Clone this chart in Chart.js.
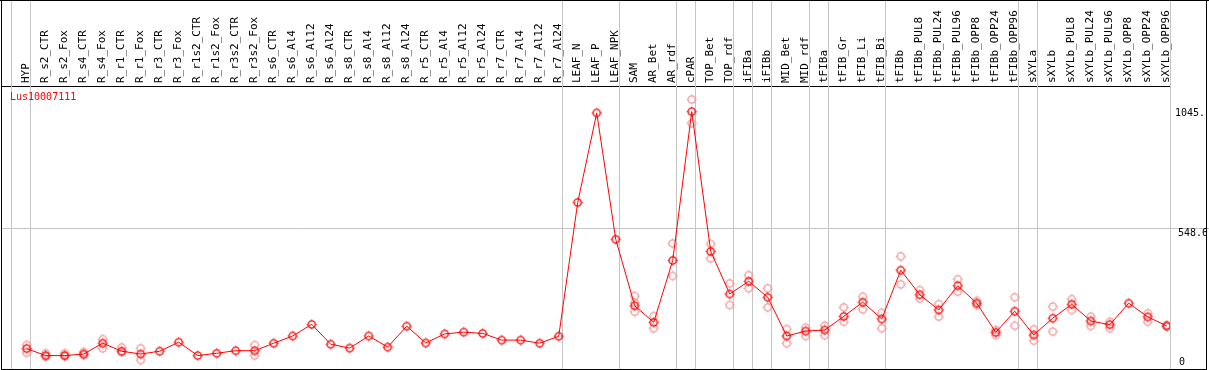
<!DOCTYPE html>
<html>
<head>
<meta charset="utf-8">
<script src="https://cdn.jsdelivr.net/npm/chart.js@4.4.0/dist/chart.umd.min.js"></script>
<style>
    html, body { margin: 0; padding: 0; background: #fff; }
    #wrap { width: 1209px; height: 370px; }
</style>
</head>
<body>
<div id="wrap"><canvas id="exprChart" width="1209" height="370"></canvas></div>
<script>
const geneName = 'Lus10007111';

const samples = [
    'HYP', 'R_s2_CTR', 'R_s2_Fox', 'R_s4_CTR', 'R_s4_Fox', 'R_r1_CTR', 'R_r1_Fox', 'R_r3_CTR', 'R_r3_Fox',
    'R_r1s2_CTR', 'R_r1s2_Fox', 'R_r3s2_CTR', 'R_r3s2_Fox', 'R_s6_CTR', 'R_s6_Al4', 'R_s6_Al12', 'R_s6_Al24',
    'R_s8_CTR', 'R_s8_Al4', 'R_s8_Al12', 'R_s8_Al24', 'R_r5_CTR', 'R_r5_Al4', 'R_r5_Al12', 'R_r5_Al24',
    'R_r7_CTR', 'R_r7_Al4', 'R_r7_Al12', 'R_r7_Al24', 'LEAF_N', 'LEAF_P', 'LEAF_NPK', 'SAM', 'AR_Bet', 'AR_rdf',
    'cPAR', 'TOP_Bet', 'TOP_rdf', 'iFIBa', 'iFIBb', 'MID_Bet', 'MID_rdf', 'tFIBa', 'tFIB_Gr', 'tFIB_Li', 'tFIB_Bi',
    'tFIBb', 'tFIBb_PUL8', 'tFIBb_PUL24', 'tFIBb_PUL96', 'tFIBb_OPP8', 'tFIBb_OPP24', 'tFIBb_OPP96',
    'sXYLa', 'sXYLb', 'sXYLb_PUL8', 'sXYLb_PUL24', 'sXYLb_PUL96', 'sXYLb_OPP8', 'sXYLb_OPP24', 'sXYLb_OPP96'
];

// moyenne par echantillon
const meanValues = [
    79, 52, 52, 58, 100, 69, 58, 69, 104, 52,
    61, 71, 71, 100, 128, 173, 96, 81, 128, 85,
    166, 101, 136, 143, 138, 112, 112, 100, 127, 646,
    993, 503, 245, 181, 421, 998, 456, 291, 340, 278,
    128, 147, 151, 204, 259, 194, 383, 288, 229, 323,
    255, 142, 224, 132, 197, 251, 186, 172, 255, 202, 167
];

// replicats (null = cache sous la moyenne)
const repHigh = [
    93, 61, 61, 66, 116, 84, 80, null, null, null,
    null, null, 93, null, null, null, null, null, null, null,
    null, null, null, null, null, null, null, null, null, null,
    null, null, 283, 205, 487, 1045, 485, 332, 364, 313,
    155, 160, 168, 239, 280, 218, 437, 306, 252, 348,
    264, 151, 278, 154, 242, 271, 203, 183, null, 216, 170
];
const repLow = [
    63, 48, 50, 54, 80, 66, 35, null, null, null,
    null, null, 52, null, null, null, null, null, null, null,
    null, null, null, null, null, null, null, null, null, null,
    null, null, 222, 158, 361, 953, 429, 248, 313, 239,
    100, 128, 131, 183, 231, 158, 328, 273, 203, 300,
    248, 132, 168, 110, 145, 229, 167, 158, null, 183, 165
];
const repThird = samples.map((s, i) => s === 'SAM' ? 257 : null);

// index du dernier echantillon de chaque groupe
const groupEnds = [-1, 0, 28, 31, 34, 35, 37, 38, 39, 41, 42, 45, 52, 53, 60];

const yMax = 1097.25;
const yMarks = [1045, 548.6, 0];
const yMarkLabels = ['1045.', '548.6', '0'];

function toPoints(values) {
    return values.map((v, i) => ({ x: i, y: v }));
}

function markImage(color) {
    const c = document.createElement('canvas');
    c.width = 13;
    c.height = 13;
    const g = c.getContext('2d');
    g.strokeStyle = color;
    g.lineWidth = 1.4;
    g.beginPath();
    g.arc(6.5, 6.5, 3.6, 0, Math.PI * 2);
    g.stroke();
    // petits traits autour du cercle
    g.lineWidth = 1;
    g.beginPath();
    g.moveTo(6.5, 1.5); g.lineTo(6.5, 2.6);
    g.moveTo(6.5, 10.4); g.lineTo(6.5, 11.5);
    g.moveTo(1.5, 6.5); g.lineTo(2.6, 6.5);
    g.moveTo(10.4, 6.5); g.lineTo(11.5, 6.5);
    g.stroke();
    return c;
}

const meanMark = markImage('#ff0000');
const repMark = markImage('#f09898');

const decorPlugin = {
    id: 'decor',
    beforeDatasetsDraw(chart) {
        const ctx = chart.ctx;
        const xs = chart.scales.x;
        const ys = chart.scales.y;
        ctx.save();
        ctx.strokeStyle = '#c4c4c4';
        ctx.lineWidth = 1;
        groupEnds.forEach(i => {
            const px = Math.round(xs.getPixelForValue(i + 0.19)) + 0.5;
            ctx.beginPath();
            ctx.moveTo(px, 0);
            ctx.lineTo(px, chart.chartArea.bottom);
            ctx.stroke();
        });
        const gy = Math.round(ys.getPixelForValue(548.6)) + 0.5;
        ctx.beginPath();
        ctx.moveTo(2, gy);
        ctx.lineTo(chart.width, gy);
        ctx.stroke();
        ctx.restore();
    },
    afterDraw(chart) {
        const ctx = chart.ctx;
        const ys = chart.scales.y;
        ctx.save();
        ctx.font = '10px "DejaVu Sans Mono"';
        ctx.fillStyle = '#ff0000';
        ctx.textBaseline = 'top';
        ctx.fillText(geneName, 10, 92);

        ctx.fillStyle = '#000';
        ctx.beginPath();
        ctx.rect(0, 0, 1206, 370);
        ctx.clip();
        yMarks.forEach((v, k) => {
            const py = ys.getPixelForValue(v);
            if (v === 0) {
                ctx.textBaseline = 'bottom';
                ctx.fillText(yMarkLabels[k], 1179, py - 2);
            } else if (k === 0) {
                ctx.textBaseline = 'top';
                ctx.fillText(yMarkLabels[k], 1175, py + 9);
            } else {
                ctx.textBaseline = 'top';
                ctx.fillText(yMarkLabels[k], 1178, py + 1);
            }
        });
        ctx.restore();

        ctx.save();
        ctx.strokeStyle = '#000';
        ctx.lineWidth = 1;
        ctx.strokeRect(1.5, 0.5, 1205, 369);
        ctx.beginPath();
        ctx.moveTo(0, 0.5);
        ctx.lineTo(1209, 0.5);
        ctx.stroke();
        ctx.restore();
    }
};

new Chart(document.getElementById('exprChart'), {
    type: 'line',
    data: {
        datasets: [{
            label: 'mean',
            data: toPoints(meanValues),
            borderColor: '#ff0000',
            borderWidth: 1,
            tension: 0,
            pointStyle: meanMark,
            order: 0
        }, {
            label: 'rep1',
            data: toPoints(repHigh),
            showLine: false,
            pointStyle: repMark,
            order: 1
        }, {
            label: 'rep2',
            data: toPoints(repLow),
            showLine: false,
            pointStyle: repMark,
            order: 2
        }, {
            label: 'rep3',
            data: toPoints(repThird),
            showLine: false,
            pointStyle: repMark,
            order: 3
        }]
    },
    options: {
        responsive: false,
        animation: false,
        devicePixelRatio: 1,
        layout: { autoPadding: false, padding: { left: 2, right: 39, top: 0, bottom: 1 } },
        plugins: {
            legend: { display: false },
            tooltip: { enabled: false }
        },
        scales: {
            x: {
                type: 'linear',
                position: 'top',
                min: -1.3,
                max: 60.17,
                afterFit: scale => {
                    scale.height = 86;
                    scale.paddingLeft = 0;
                    scale.paddingRight = 0;
                },
                afterBuildTicks: scale => {
                    scale.ticks = samples.map((s, i) => ({ value: i }));
                },
                ticks: {
                    autoSkip: false,
                    minRotation: 90,
                    maxRotation: 90,
                    padding: 3,
                    labelOffset: 13,
                    color: '#000',
                    font: { family: 'DejaVu Sans Mono', size: 11 },
                    callback: value => samples[value]
                },
                grid: { display: false, drawTicks: false },
                border: { display: true, color: '#000', width: 1 }
            },
            y: {
                display: false,
                min: 0,
                max: yMax
            }
        }
    },
    plugins: [decorPlugin]
});
</script>
</body>
</html>
